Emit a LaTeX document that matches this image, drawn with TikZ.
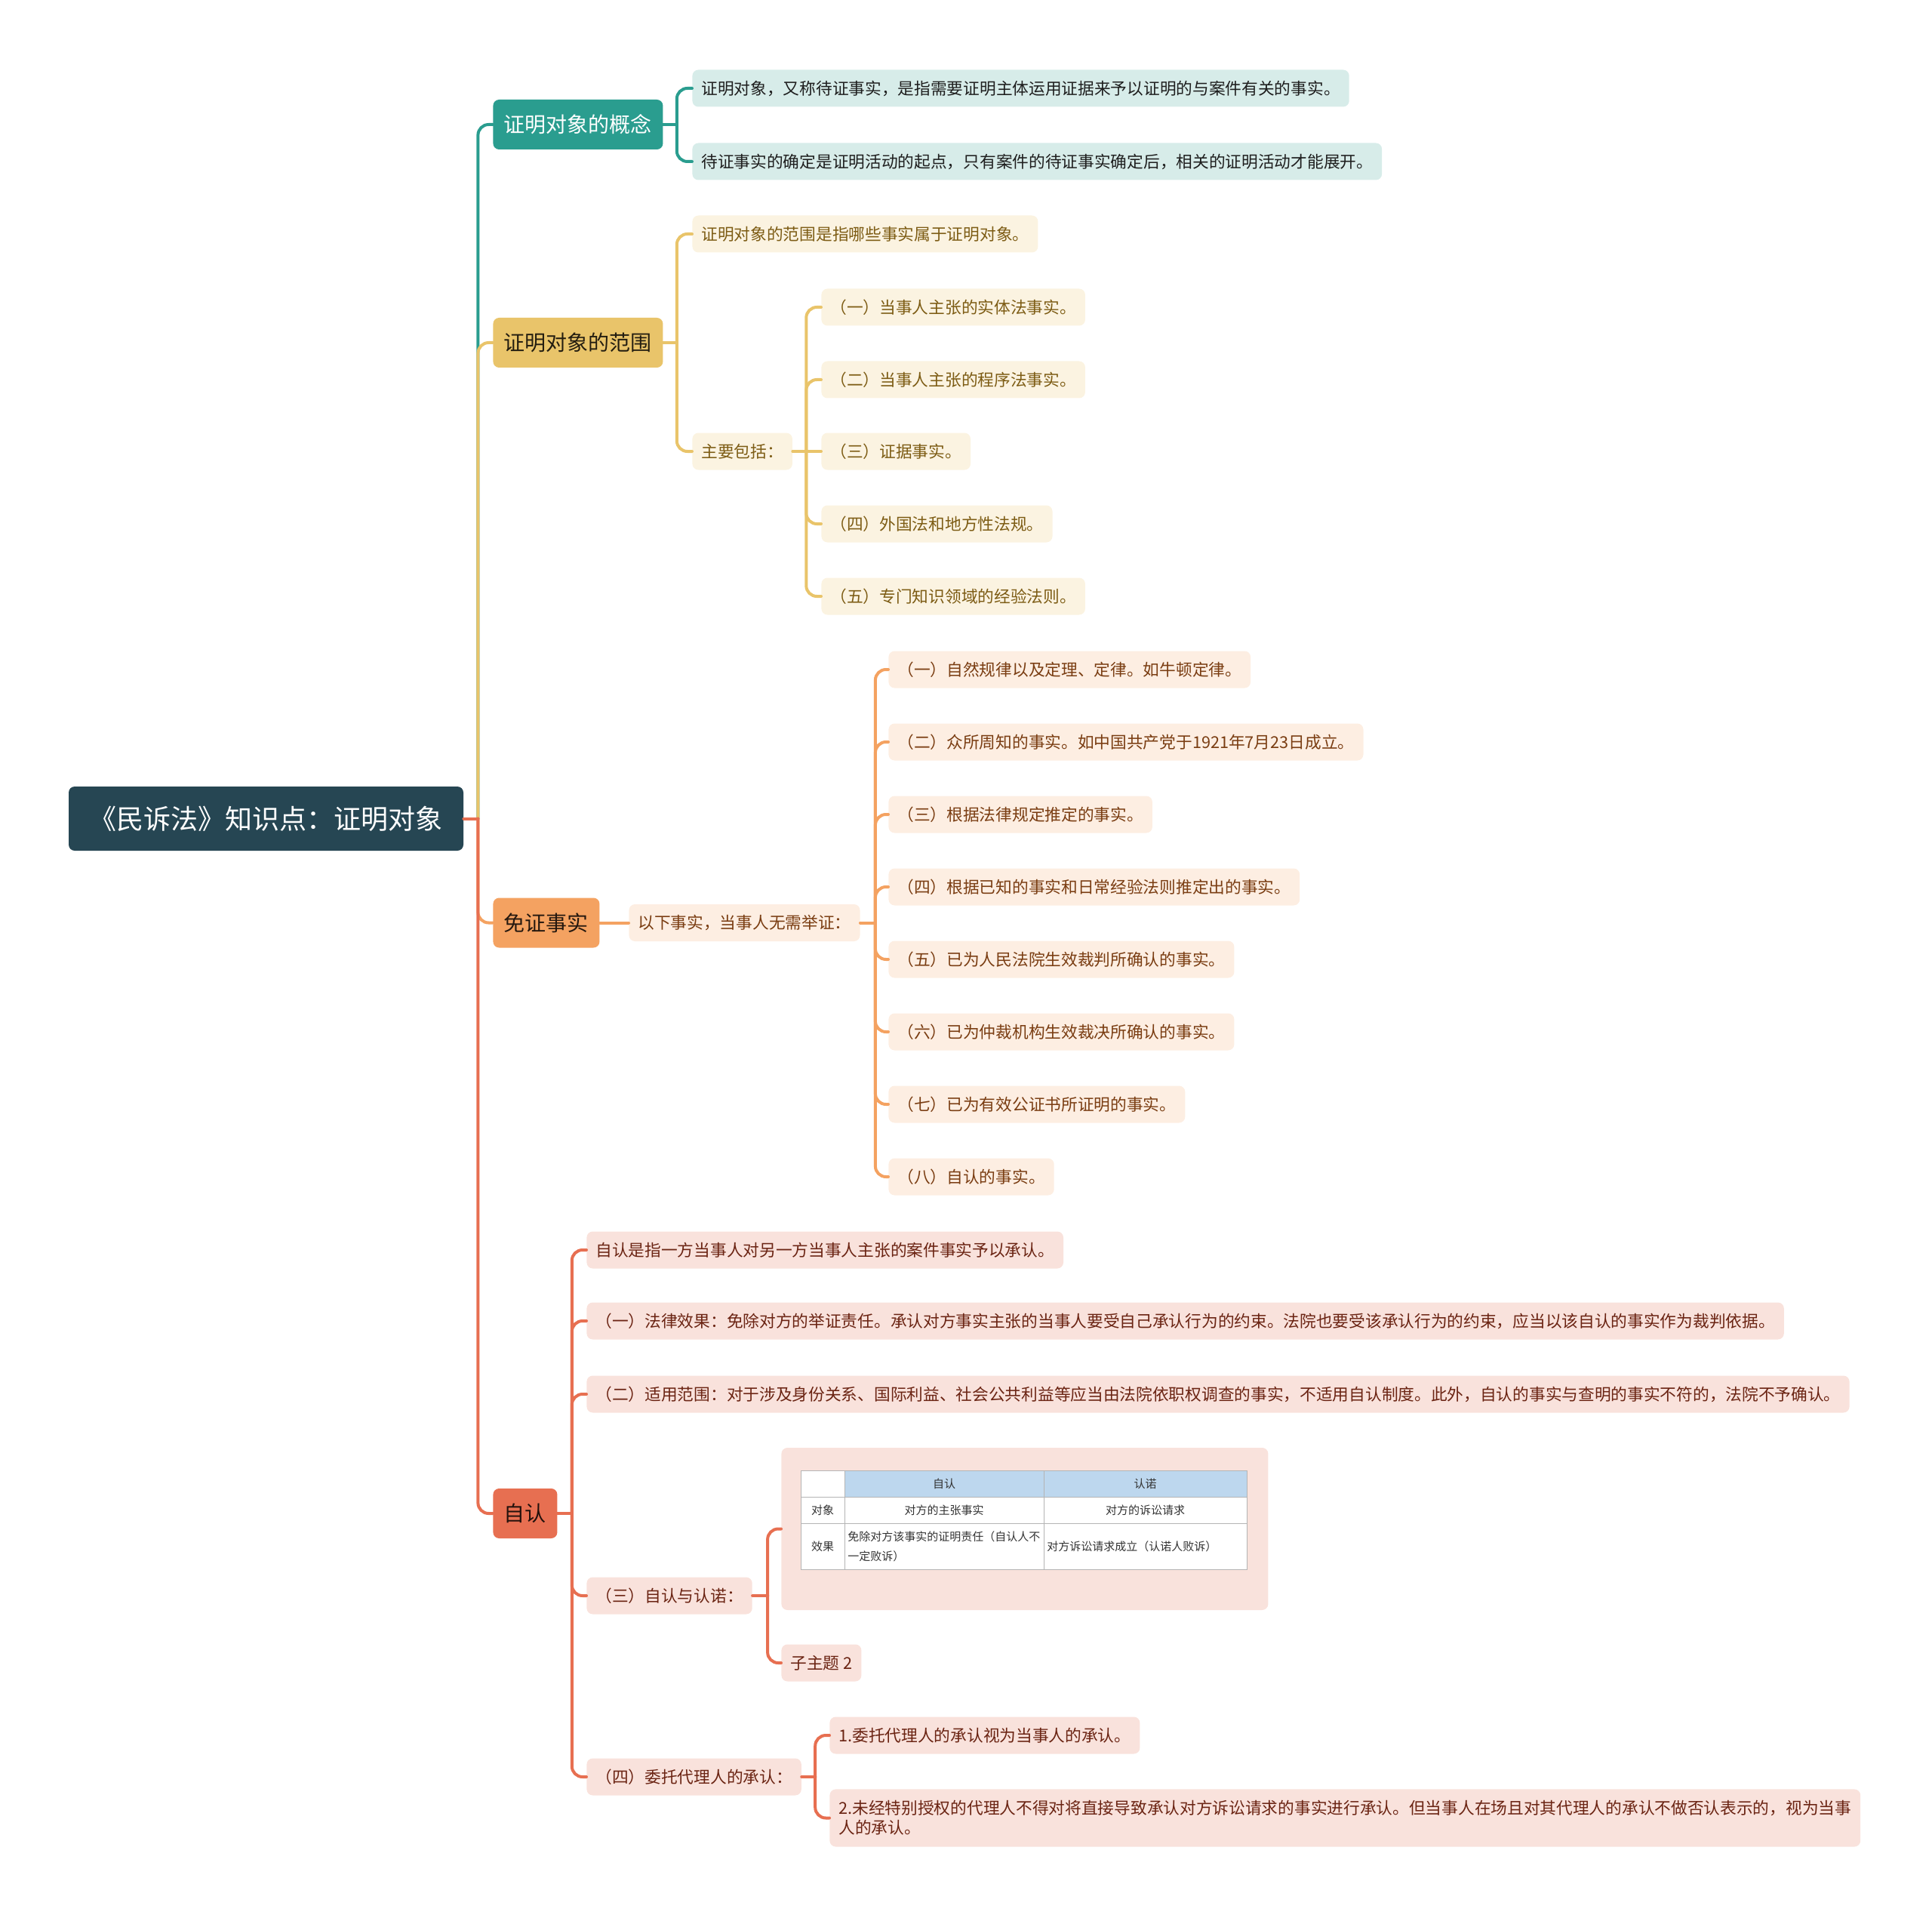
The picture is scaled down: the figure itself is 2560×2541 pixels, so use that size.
\documentclass[tikz,border=0pt]{standalone}
\usepackage{fontspec}
\setmainfont{Noto Sans CJK SC}

\definecolor{rootc}{HTML}{264653}
\definecolor{tealc}{HTML}{2A9D8F}
\definecolor{goldc}{HTML}{E9C46A}
\definecolor{orangec}{HTML}{F4A261}
\definecolor{redc}{HTML}{E76F51}
\definecolor{teall}{HTML}{D7ECE9}
\definecolor{goldl}{HTML}{FBF3E1}
\definecolor{orangel}{HTML}{FDEEE2}
\definecolor{redl}{HTML}{F9E2DC}
\definecolor{tealt}{HTML}{1E1E1E}
\definecolor{goldt}{HTML}{7D5C14}
\definecolor{oranget}{HTML}{7A3D12}
\definecolor{redt}{HTML}{6B2413}
\definecolor{hdrc}{HTML}{BDD7EE}
\definecolor{gridc}{HTML}{B4B4B4}

\tikzset{
  rootbox/.style={fill=rootc, text=white, rounded corners=4pt, minimum width=261.5pt,
    minimum height=42.5pt, font=\fontsize{18}{20}\selectfont},
  topic/.style={rounded corners=4pt, minimum height=33pt, inner xsep=7.25pt,
    font=\fontsize{14}{16}\selectfont, anchor=west},
  leaf/.style={rounded corners=4pt, minimum height=24.5pt, inner xsep=6pt,
    font=\fontsize{10.85}{13}\selectfont, anchor=west},
  cell/.style={font=\fontsize{7.5}{13}\selectfont, text=black!80, inner sep=1pt},
  link/.style={line width=2pt, line cap=round, rounded corners=7pt},
}

\begin{document}
\begin{tikzpicture}[x=0.5pt, y=-0.5pt]
    \useasboundingbox (0,0) rectangle (2560,2541);

    % centralni tema
    \node[rootbox] (root) at (352.5,1084.5) {《民诉法》知识点：证明对象};

    % hlavni vetve
    \node[topic, fill=tealc, text=white] (gn) at (653,165) {证明对象的概念};
    \node[topic, fill=goldc, text=black!85!goldc] (fw) at (653,454) {证明对象的范围};
    \node[topic, fill=orangec, text=black!85!orangec] (mz) at (653,1222.5) {免证事实};
    \node[topic, fill=redc, text=black!85!redc] (zr) at (653,2005) {自认};

    \draw[link, tealc] (root.east) ++(19,0) |- (gn.west);
    \draw[link, goldc] (root.east) ++(19,0) |- (fw.west);
    \draw[link, orangec] (root.east) ++(19,0) |- (mz.west);
    \draw[link, redc] (root.east) ++(19,0) |- (zr.west);
    \draw[link, redc] (root.east) -- ++(19,0);

    % pojem
    \node[leaf, fill=teall, text=tealt] (ga) at (917,117) {证明对象，又称待证事实，是指需要证明主体运用证据来予以证明的与案件有关的事实。};
    \node[leaf, fill=teall, text=tealt] (gb) at (917,214) {待证事实的确定是证明活动的起点，只有案件的待证事实确定后，相关的证明活动才能展开。};
    \draw[link, tealc] (gn.east) -- ++(18,0);
    \draw[link, tealc] (gn.east) ++(18,0) |- (ga.west);
    \draw[link, tealc] (gn.east) ++(18,0) |- (gb.west);

    % rozsah
    \node[leaf, fill=goldl, text=goldt] (fa) at (917,310) {证明对象的范围是指哪些事实属于证明对象。};
    \node[leaf, fill=goldl, text=goldt] (fb) at (917,598) {主要包括：};
    \draw[link, goldc] (fw.east) -- ++(18,0);
    \draw[link, goldc] (fw.east) ++(18,0) |- (fa.west);
    \draw[link, goldc] (fw.east) ++(18,0) |- (fb.west);

    \node[leaf, fill=goldl, text=goldt] (fb1) at (1088,407) {（一）当事人主张的实体法事实。};
    \node[leaf, fill=goldl, text=goldt] (fb2) at (1088,503) {（二）当事人主张的程序法事实。};
    \node[leaf, fill=goldl, text=goldt] (fb3) at (1088,598) {（三）证据事实。};
    \node[leaf, fill=goldl, text=goldt] (fb4) at (1088,694) {（四）外国法和地方性法规。};
    \node[leaf, fill=goldl, text=goldt] (fb5) at (1088,790) {（五）专门知识领域的经验法则。};
    \draw[link, goldc] (fb.east) -- (fb3.west);
    \foreach \c in {fb1,fb2,fb4,fb5}
        \draw[link, goldc] (fb.east) ++(18,0) |- (\c.west);

    % fakta bez dukazu
    \node[leaf, fill=orangel, text=oranget] (ma) at (833,1222.5) {以下事实，当事人无需举证：};
    \draw[link, orangec] (mz.east) -- (ma.west);

    \node[leaf, fill=orangel, text=oranget] (ma1) at (1177,887) {（一）自然规律以及定理、定律。如牛顿定律。};
    \node[leaf, fill=orangel, text=oranget] (ma2) at (1177,983) {（二）众所周知的事实。如中国共产党于1921年7月23日成立。};
    \node[leaf, fill=orangel, text=oranget] (ma3) at (1177,1079) {（三）根据法律规定推定的事实。};
    \node[leaf, fill=orangel, text=oranget] (ma4) at (1177,1175) {（四）根据已知的事实和日常经验法则推定出的事实。};
    \node[leaf, fill=orangel, text=oranget] (ma5) at (1177,1271) {（五）已为人民法院生效裁判所确认的事实。};
    \node[leaf, fill=orangel, text=oranget] (ma6) at (1177,1367) {（六）已为仲裁机构生效裁决所确认的事实。};
    \node[leaf, fill=orangel, text=oranget] (ma7) at (1177,1463) {（七）已为有效公证书所证明的事实。};
    \node[leaf, fill=orangel, text=oranget] (ma8) at (1177,1559) {（八）自认的事实。};
    \draw[link, orangec] (ma.east) -- ++(20,0);
    \foreach \c in {ma1,ma2,ma3,ma4,ma5,ma6,ma7,ma8}
        \draw[link, orangec] (ma.east) ++(20,0) |- (\c.west);

    % doznani
    \node[leaf, fill=redl, text=redt] (za) at (777,1656) {自认是指一方当事人对另一方当事人主张的案件事实予以承认。};
    \node[leaf, fill=redl, text=redt] (zb) at (777,1750) {（一）法律效果：免除对方的举证责任。承认对方事实主张的当事人要受自己承认行为的约束。法院也要受该承认行为的约束，应当以该自认的事实作为裁判依据。};
    \node[leaf, fill=redl, text=redt] (zc) at (777,1847) {（二）适用范围：对于涉及身份关系、国际利益、社会公共利益等应当由法院依职权调查的事实，不适用自认制度。此外，自认的事实与查明的事实不符的，法院不予确认。};
    \node[leaf, fill=redl, text=redt] (zd) at (777,2114) {（三）自认与认诺：};
    \node[leaf, fill=redl, text=redt] (ze) at (777,2354) {（四）委托代理人的承认：};
    \draw[link, redc] (zr.east) -- ++(19,0);
    \foreach \c in {za,zb,zc,zd,ze}
        \draw[link, redc] (zr.east) ++(19,0) |- (\c.west);

    % tabulka
    \node[leaf, fill=redl, minimum width=322.5pt, minimum height=107.5pt] (tb) at (1035,2025.5) {};
    \fill[white] (1061,1948) rectangle (1652,2079);
    \fill[hdrc] (1119,1948) rectangle (1652,1983);
    \draw[gridc, line width=0.5pt] (1061,1948) rectangle (1652,2079)
        (1061,1983) -- (1652,1983) (1061,2018) -- (1652,2018)
        (1119,1948) -- (1119,2079) (1383,1948) -- (1383,2079);
    \node[cell] (h1) at (1251,1965.5) {自认};
    \node[cell] (h2) at (1517.5,1965.5) {认诺};
    \node[cell] (r1) at (1090,2000.5) {对象};
    \node[cell] (r1a) at (1251,2000.5) {对方的主张事实};
    \node[cell] (r1b) at (1517.5,2000.5) {对方的诉讼请求};
    \node[cell] (r2) at (1090,2048.5) {效果};
    \node[cell, anchor=west, align=left] (r2a) at (1121,2048.5) {免除对方该事实的证明责任（自认人不\\一定败诉）};
    \node[cell, anchor=west] (r2b) at (1385,2048.5) {对方诉讼请求成立（认诺人败诉）};

    \node[leaf, fill=redl, text=redt] (zt) at (1035,2203) {子主题 2};
    \draw[link, redc] (zd.east) -- ++(20,0);
    \draw[link, redc] (zd.east) ++(20,0) |- (tb.west);
    \draw[link, redc] (zd.east) ++(20,0) |- (zt.west);

    % zastupce
    \node[leaf, fill=redl, text=redt] (zf) at (1099,2299) {1.委托代理人的承认视为当事人的承认。};
    \node[leaf, fill=redl, text=redt, align=left, inner ysep=7.5pt] (zg) at (1099,2408.5) {2.未经特别授权的代理人不得对将直接导致承认对方诉讼请求的事实进行承认。但当事人在场且对其代理人的承认不做否认表示的，视为当事\\人的承认。};
    \draw[link, redc] (ze.east) -- ++(18,0);
    \draw[link, redc] (ze.east) ++(18,0) |- (zf.west);
    \draw[link, redc] (ze.east) ++(18,0) |- (zg.west);

\end{tikzpicture}
\end{document}
